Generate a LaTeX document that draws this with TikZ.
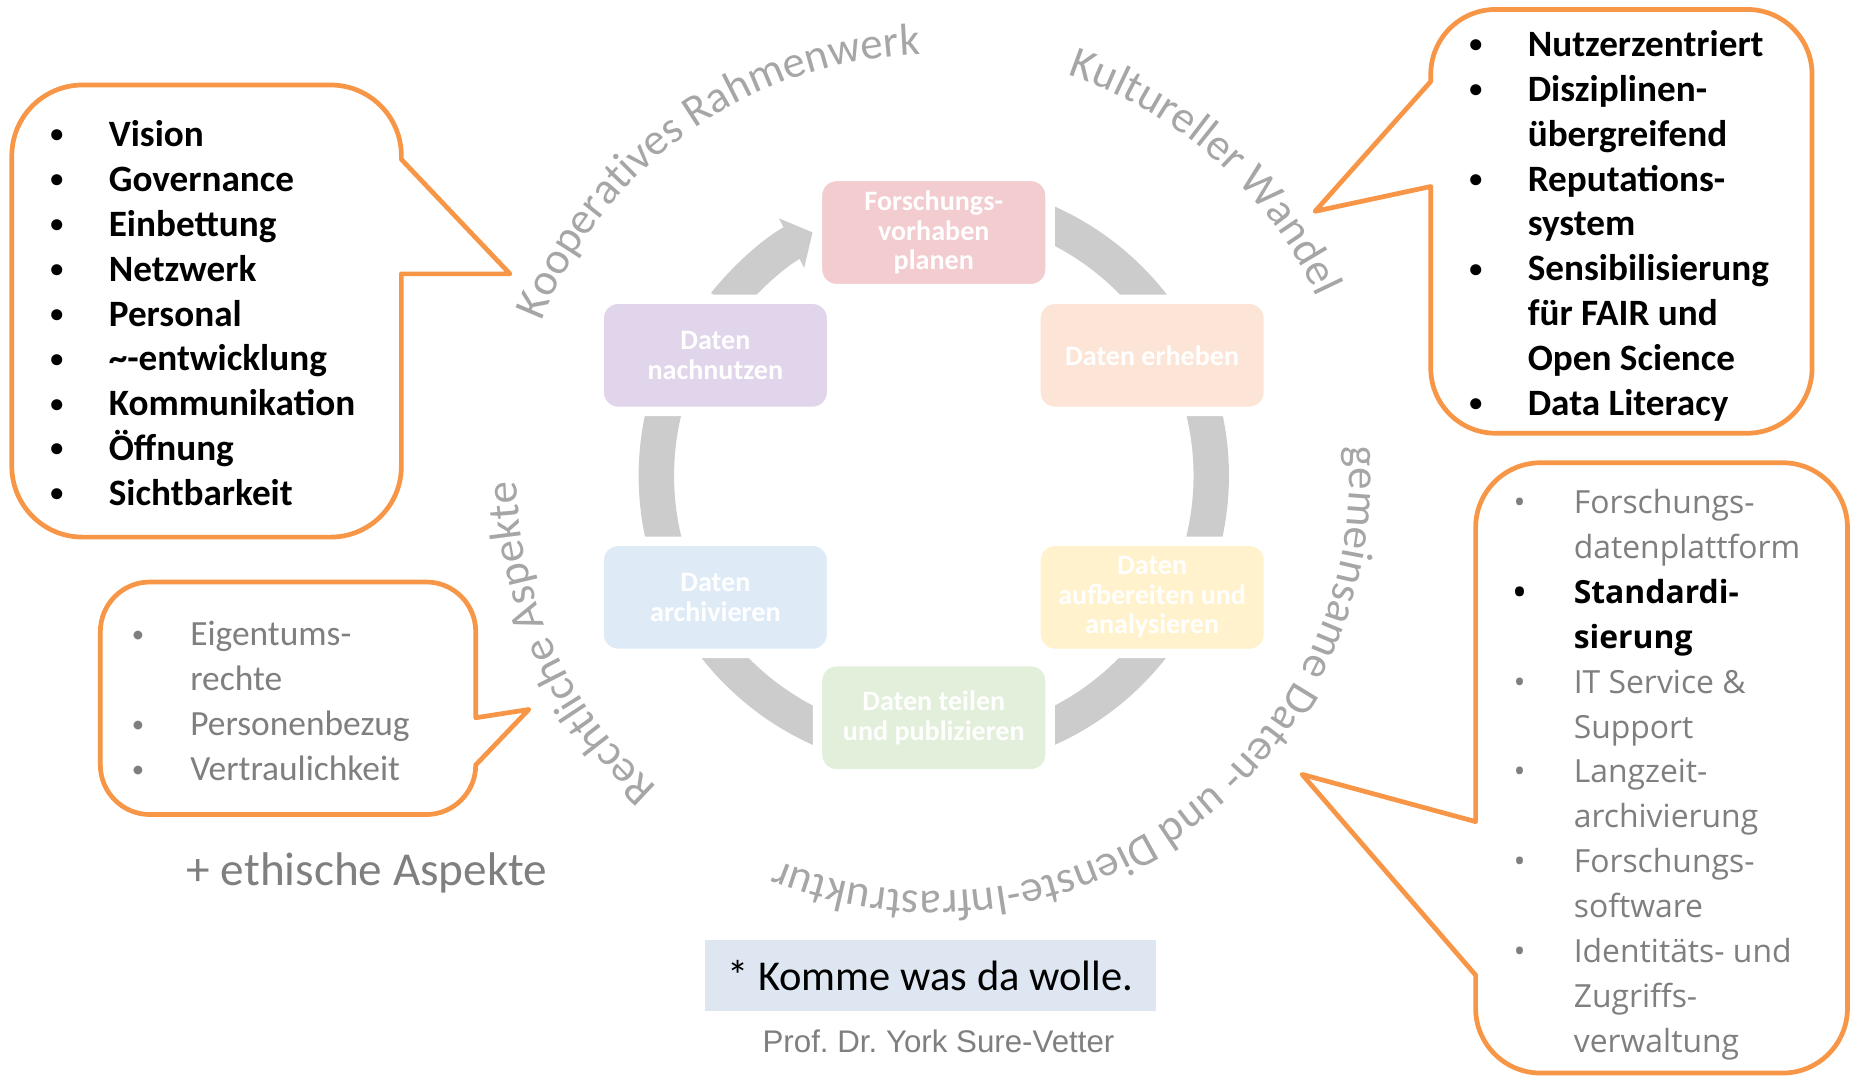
\documentclass[tikz,border=0pt]{standalone}
\usepackage{fontspec}
\setmainfont{Carlito}
\newfontfamily\opensans{Open Sans}
\newfontfamily\arialfont{Liberation Sans}
\usepackage{xcolor}
\usepackage{graphicx}
\usetikzlibrary{arrows.meta,decorations.text,backgrounds}

\definecolor{C0}{RGB}{247,150,70}   % orange callouts
\definecolor{C1}{RGB}{166,166,166}  % curved labels
\definecolor{C2}{RGB}{127,127,127}  % grey text
\definecolor{C3}{RGB}{204,204,204}  % ring
\definecolor{C4}{RGB}{222,230,241}  % note box
\definecolor{P0}{RGB}{242,204,207}
\definecolor{P1}{RGB}{252,228,214}
\definecolor{P2}{RGB}{255,242,204}
\definecolor{P3}{RGB}{226,239,218}
\definecolor{P4}{RGB}{222,235,247}
\definecolor{P5}{RGB}{225,213,235}

\newcommand{\pkt}{\makebox[51pt][l]{\hspace{1.5pt}\raisebox{0.1em}{\scalebox{0.7}{\textbullet}}}}
\newcommand{\pktos}{\makebox[51pt][l]{\textbullet}}
\newcommand{\ein}{\hspace*{51pt}}
\newcommand{\listfont}{\fontsize{31.5}{38}\selectfont}
\newcommand{\kurvenfont}{\fontsize{38}{38}\selectfont}

\begin{document}
\begin{tikzpicture}[x=1pt,y=1pt,
    blase/.style={draw=C0, line width=4pt, line join=round, fill=white},
    liste/.style={anchor=north west, inner sep=0pt, align=left},
    phase/.style={rounded corners=16pt, draw=white, line width=8pt,
      minimum width=197pt, minimum height=95pt, text=white, align=center,
      font=\fontsize{23.8}{25}\selectfont\bfseries},
    ring/.style={draw=C3, line width=30pt},
    kurve/.style={decorate, decoration={text along path, text color=C1, text align=left}}]

  \useasboundingbox (0,0) rectangle (1568,-912);

  % Centre of the cycle.
  \coordinate (cyc) at (791,-403);

  % Phases of the data life cycle.
  \node[phase, fill=P0] (planen) at (791,-197) {Forschungs-\\vorhaben\\planen};
  \node[phase, fill=P1] (erheben) at (976,-301) {Daten erheben};
  \node[phase, fill=P2] (aufbereiten) at (976,-506) {Daten\\aufbereiten und\\analysieren};
  \node[phase, fill=P3] (teilen) at (791,-608) {Daten teilen\\und publizieren};
  \node[phase, fill=P4] (archivieren) at (606,-506) {Daten\\archivieren};
  \node[phase, fill=P5] (nachnutzen) at (606,-301) {Daten\\nachnutzen};

  % Ring behind the phases, open where the arrow runs.
  \begin{scope}[on background layer]
    \draw[ring] (cyc) ++(113:235) arc[start angle=113, end angle=-217, radius=235];
    \draw[ring, -{Triangle[width=46pt,length=20pt]}]
      ([shift={(8pt,-8pt)}]nachnutzen.north) arc[start angle=141.4, end angle=117, radius=227];
  \end{scope}

  % Curved labels round the cycle.
  \path[kurve, decoration={text={|\kurvenfont|Kooperatives Rahmenwerk}}, shift={(cyc)}]
    (158.5:357) arc[start angle=158.5, end angle=60, radius=357];
  \path[kurve, decoration={text={|\kurvenfont|Kultureller Wandel}}, shift={(cyc)}]
    (71.5:358) arc[start angle=71.5, end angle=0, radius=358];
  \path[kurve, decoration={text={|\kurvenfont|gemeinsame Daten- und Dienste-Infrastruktur}}, shift={(cyc)}]
    (4:352) arc[start angle=4, end angle=-135, radius=352];
  \path[kurve, decoration={text={|\kurvenfont|Rechtliche Aspekte}}, shift={(cyc)}]
    (228.5:353) arc[start angle=228.5, end angle=165, radius=353];

  % Callout top left.
  \draw[blase] (70,-72) -- (280,-72) arc[start angle=90, end angle=0, radius=60]
    -- (340,-135) -- (432,-232) -- (340,-232)
    -- (340,-395) arc[start angle=0, end angle=-90, radius=60]
    -- (70,-455) arc[start angle=-90, end angle=-180, radius=60]
    -- (10,-132) arc[start angle=180, end angle=90, radius=60] -- cycle;
  \node[liste, font=\listfont\bfseries] (leitbild) at (41,-97.4)
    {\strut\pkt Vision\\ \pkt Governance\\ \pkt Einbettung\\ \pkt Netzwerk\\
     \pkt Personal\\ \pkt \textasciitilde-entwicklung\\ \pkt Kommunikation\\
     \pkt Öffnung\\ \pkt Sichtbarkeit};

  % Callout top right.
  \draw[blase] (1267,-8) -- (1480,-8) arc[start angle=90, end angle=0, radius=55]
    -- (1535,-312) arc[start angle=0, end angle=-90, radius=55]
    -- (1267,-367) arc[start angle=-90, end angle=-180, radius=55]
    -- (1212,-158) -- (1114,-179) -- (1212,-69)
    -- (1212,-63) arc[start angle=180, end angle=90, radius=55] -- cycle;
  \node[liste, font=\listfont\bfseries] (kultur) at (1243,-21)
    {\strut\pkt Nutzerzentriert\\ \pkt Disziplinen-\\ \ein übergreifend\\
     \pkt Reputations-\\ \ein system\\ \pkt Sensibilisierung\\ \ein für FAIR und\\
     \ein Open Science\\ \pkt Data Literacy};

  % Callout bottom left.
  \draw[blase] (127,-493) -- (361,-493) arc[start angle=90, end angle=0, radius=42]
    -- (403,-608) -- (448,-601) -- (403,-648)
    arc[start angle=0, end angle=-90, radius=42]
    -- (127,-690) arc[start angle=-90, end angle=-180, radius=42]
    -- (85,-535) arc[start angle=180, end angle=90, radius=42] -- cycle;
  \node[liste, text=C2, font=\fontsize{30}{38}\selectfont] (recht) at (110,-520.4)
    {\strut\pkt Eigentums-\\ \ein rechte\\ \pkt Personenbezug\\ \pkt Vertraulichkeit};

  % Callout bottom right.
  \draw[blase] (1305,-392) -- (1510,-392) arc[start angle=90, end angle=0, radius=55]
    -- (1565,-854) arc[start angle=0, end angle=-90, radius=55]
    -- (1305,-909) arc[start angle=-90, end angle=-180, radius=55]
    -- (1250,-826) -- (1103,-656) -- (1250,-696)
    -- (1250,-447) arc[start angle=180, end angle=90, radius=55] -- cycle;
  \node[liste, text=C2, font=\opensans\fontsize{27}{38}\selectfont] (infra) at (1282,-408.4)
    {\strut\pktos Forschungs-\\ \ein datenplattform\\
     \textcolor{black}{\bfseries\pktos Standardi-}\\ \ein\textcolor{black}{\bfseries sierung}\\
     \pktos IT Service \&\\ \ein Support\\ \pktos Langzeit-\\ \ein archivierung\\
     \pktos Forschungs-\\ \ein software\\ \pktos Identitäts- und\\ \ein Zugriffs-\\
     \ein verwaltung};

  % Loose texts.
  \node[anchor=base west, inner sep=0pt, text=C2, font=\fontsize{40}{40}\selectfont]
    (ethik) at (158,-750) {+ ethische Aspekte};
  \node[fill=C4, minimum width=382pt, minimum height=60pt, inner sep=0pt,
    font=\fontsize{36}{36}\selectfont] (hinweis) at (788,-826) {* Komme was da wolle.};
  \node[inner sep=0pt, text=C2, font=\arialfont\fontsize{26.5}{26.5}\selectfont\frenchspacing]
    (autor) at (795,-882) {Prof. Dr. York Sure-Vetter};

\end{tikzpicture}
\end{document}
